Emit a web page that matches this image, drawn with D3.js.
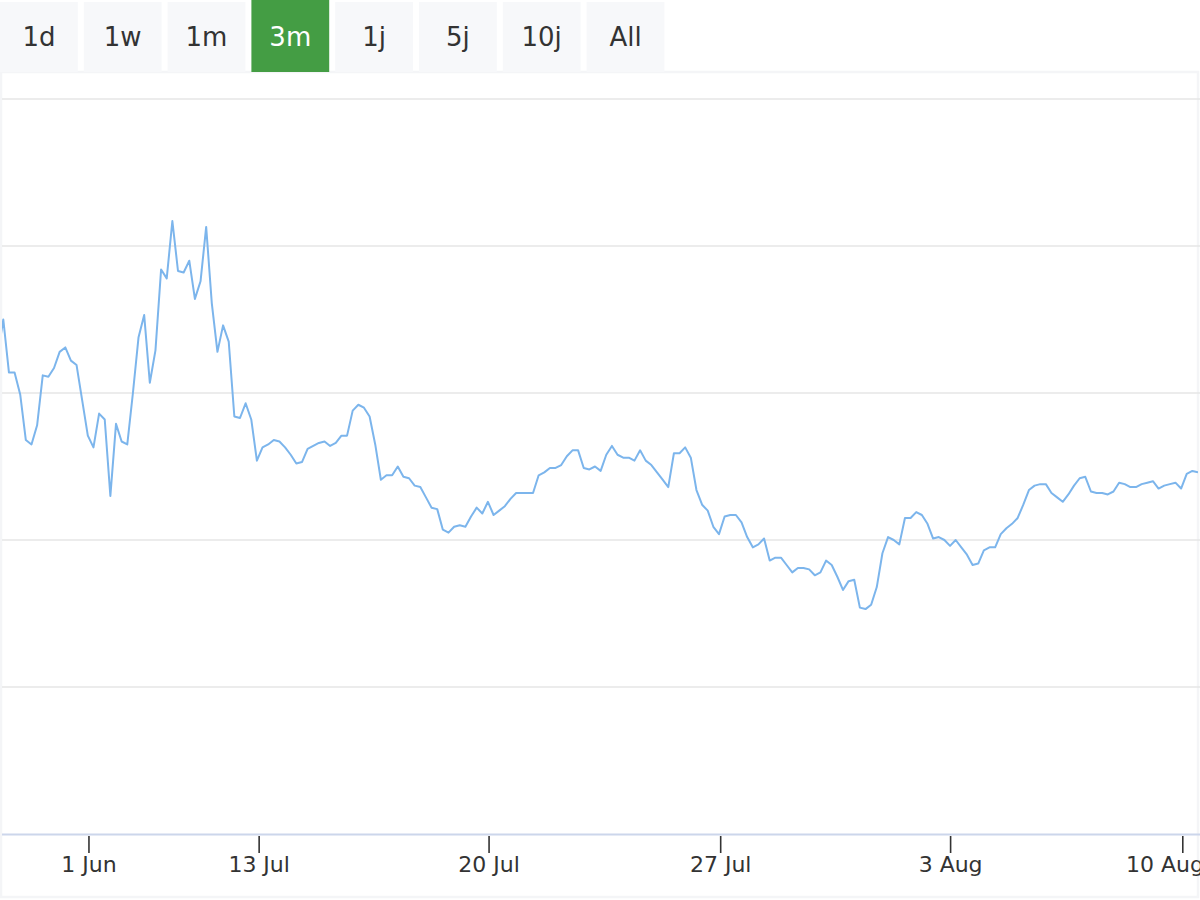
<!DOCTYPE html>
<html>
<head>
<meta charset="utf-8">
<script src="https://cdn.jsdelivr.net/npm/d3@7"></script>
<style>
  html, body { margin: 0; padding: 0; background: #ffffff; }
  svg { display: block; font-family: "DejaVu Sans", sans-serif; }
</style>
</head>
<body>
<svg id="chart" width="1200" height="900"></svg>
<script>
// ---- data ----
const rangeButtons = ["1d", "1w", "1m", "3m", "1j", "5j", "10j", "All"];
const activeButton = "3m";

const values = [
  326,
  350,314,314,299,268,265,278,312,311,317,328,331,322,319,295,271,263,286,282,230,
  279,267,265,300,338,353,307,329,384,378,417,383,382,390,364,376,413,361,328,346,
  335,284,283,293,282,254,263,265,268,267,263,258,252,
  253,262,264,266,267,264,266,271,271,288,292,290,284,265,241,244,244,250,243,242,
  237,236,229,222,221,207,205,209,210,209,216,222,218,226,217,220,223,228,232,232,
  232,232,244,246,249,249,251,257,261,261,249,248,250,247,
  258,264,258,256,256,254,261,254,251,246,241,236,259,259,263,256,234,224,220,209,
  204,216,217,217,212,202,195,197,201,186,188,188,183,178,181,181,180,176,178,186,
  183,175,166,172,173,154,153,156,168,191,202,200,197,
  215,215,219,217,211,201,202,200,196,200,195,190,183,184,193,195,195,204,208,211,
  215,224,234,237,238,238,232,229,226,231,237,242,243,233,232,232,231,233,239,238,
  236,236,238,239,240,235,237,238,239,235,245,247,246
];

const tickLabels = ["1 Jun", "13 Jul", "20 Jul", "27 Jul", "3 Aug", "10 Aug"];
const tickIndex = [16.2, 46.4, 87.2, 128.3, 169.1, 210.3];
const gridValues = [0, 100, 200, 300, 400, 500];

// ---- layout ----
const W = 1200, H = 900;
const plot = { left: 2, right: 1197, top: 99, bottom: 834 };

const svg = d3.select("#chart");

// frame
svg.append("rect").attr("x", 0).attr("y", 0).attr("width", W).attr("height", H).attr("fill", "#ffffff");
svg.append("rect")
  .attr("x", 1).attr("y", 72).attr("width", 1197).attr("height", 825)
  .attr("fill", "#ffffff").attr("stroke", "#f4f5f7").attr("stroke-width", 2.5);

// range buttons
const step = 83.8, gap = 6;
const bx = d3.scaleBand().domain(rangeButtons)
  .range([0, step * rangeButtons.length - gap])
  .paddingInner(gap / step).paddingOuter(0);
const btn = svg.append("g").selectAll("g").data(rangeButtons).join("g");
btn.append("rect")
  .attr("x", d => bx(d))
  .attr("y", d => d === activeButton ? 0 : 2)
  .attr("width", bx.bandwidth())
  .attr("height", d => d === activeButton ? 72 : 70)
  .attr("fill", d => d === activeButton ? "#449d44" : "#f7f8fa");
btn.append("text")
  .attr("x", d => bx(d) + bx.bandwidth() / 2)
  .attr("y", 46)
  .attr("text-anchor", "middle")
  .attr("font-size", 26)
  .attr("fill", d => d === activeButton ? "#ffffff" : "#333333")
  .text(d => d);

// scales
const x = d3.scaleLinear().domain([1, values.length - 1]).range([3.3, 1198]);
const y = d3.scaleLinear().domain([0, 500]).range([plot.bottom, plot.top]);

// gridlines
svg.append("g").selectAll("line").data(gridValues.filter(v => v > 0)).join("line")
  .attr("x1", plot.left).attr("x2", 1200)
  .attr("y1", d => y(d)).attr("y2", d => y(d))
  .attr("stroke", "#e6e6e6").attr("stroke-width", 1.5);

// clip
svg.append("clipPath").attr("id", "clip")
  .append("rect").attr("x", plot.left).attr("y", 0).attr("width", plot.right - plot.left + 1).attr("height", plot.bottom);

// line
const line = d3.line().x((d, i) => x(i)).y(d => y(d));
svg.append("path")
  .datum(values)
  .attr("clip-path", "url(#clip)")
  .attr("d", line)
  .attr("fill", "none")
  .attr("stroke", "#7cb5ec")
  .attr("stroke-width", 2)
  .attr("stroke-linejoin", "round");

// x axis
const axisG = svg.append("g").attr("transform", `translate(0,${plot.bottom})`);
axisG.append("line").attr("x1", plot.left).attr("x2", 1200).attr("y1", 0.5).attr("y2", 0.5)
  .attr("stroke", "#ccd6eb").attr("stroke-width", 2);
const ticks = axisG.selectAll("g.tick").data(tickIndex).join("g")
  .attr("class", "tick")
  .attr("transform", d => `translate(${x(d)},0)`);
ticks.append("line").attr("y1", 2).attr("y2", 19).attr("stroke", "#333333").attr("stroke-width", 1.6);
ticks.append("text")
  .attr("y", 38).attr("text-anchor", "middle")
  .attr("font-size", 22).attr("fill", "#333333")
  .text((d, i) => tickLabels[i])
  .each(function (d) {
    // justify labels that would overflow the right edge (like the reference)
    const bb = this.getBBox();
    const right = x(d) + bb.x + bb.width;
    const limit = W + 4;
    if (right > limit) d3.select(this).attr("x", limit - right);
  });
</script>
</body>
</html>
